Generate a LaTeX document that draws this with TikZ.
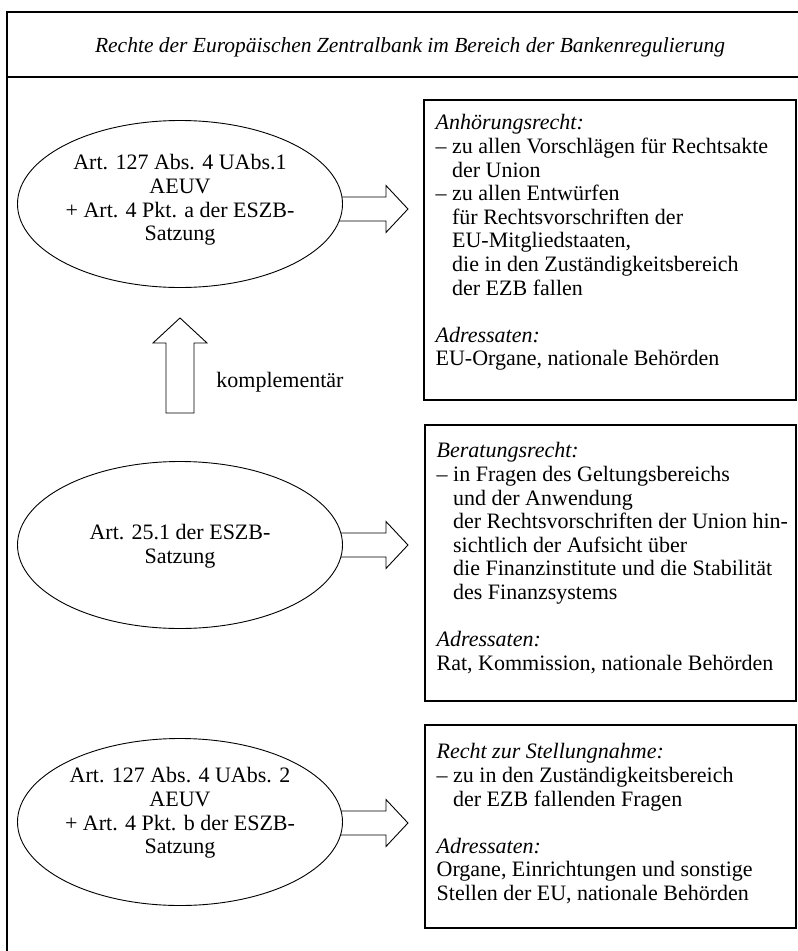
\documentclass[tikz,border=0pt]{standalone}
\usepackage{fontspec}
\setmainfont{Liberation Serif}
\usetikzlibrary{shapes.geometric,backgrounds}
\newcommand\ind{\hphantom{– }}
\begin{document}
\begin{tikzpicture}[x=1pt,y=-1pt,
  every node/.style={font=\fontsize{22}{23.6}\selectfont},
  frame/.style={line width=1.3pt},
  ellnode/.style={ellipse,draw,line width=0.9pt,fill=white,minimum width=325pt,minimum height=167pt,inner sep=0pt},
  elltext/.style={align=center,inner sep=0pt},
  boxnode/.style={rectangle,draw,line width=1.1pt,inner sep=0pt},
  boxtext/.style={align=left,anchor=north west,inner sep=0pt},
  blockarrow/.style={draw,line width=0.9pt,line join=miter}]
\useasboundingbox (0,0) rectangle (798,951);
% frame
\draw[frame] (798,12) -- (7,12) -- (7,951);
\draw[frame] (7,77) -- (798,77);
\node[inner sep=0pt,font=\fontsize{21.5}{23.6}\selectfont\itshape] (title) at (410,47) {Rechte der Europäischen Zentralbank im Bereich der Bankenregulierung};
% ellipses
\node[ellnode] (e1) at (180,204) {};
\node[ellnode] (e2) at (180,545) {};
\node[ellnode] (e3) at (180,822) {};
\node[elltext] (l1) at ([yshift=4pt]e1.center) {Art. 127 Abs. 4 UAbs.1\\AEUV\\+ Art. 4 Pkt. a der ESZB-\\Satzung};
\node[elltext] (l2) at ([yshift=-1pt]e2.center) {Art. 25.1 der ESZB-\\Satzung};
\node[elltext] (l3) at ([yshift=9pt]e3.center) {Art. 127 Abs. 4 UAbs. 2\\AEUV\\+ Art. 4 Pkt. b der ESZB-\\Satzung};
% boxes
\node[boxnode,minimum width=372pt,minimum height=300pt] (b1) at (610,250) {};
\node[boxnode,minimum width=371pt,minimum height=276pt] (b2) at (610.5,563) {};
\node[boxnode,minimum width=371pt,minimum height=203pt] (b3) at (610.5,826.5) {};
\node[boxtext] (t1) at ([xshift=12pt,yshift=-15pt]b1.north west) {\textit{Anhörungsrecht:}\\
– zu allen Vorschlägen für Rechtsakte\\
\ind der Union\\
– zu allen Entwürfen\\
\ind für Rechtsvorschriften der\\
\ind EU-Mitgliedstaaten,\\
\ind die in den Zuständigkeitsbereich\\
\ind der EZB fallen\\[23.6pt]
\textit{Adressaten:}\\
EU-Organe, nationale Behörden};
\node[boxtext] (t2) at ([xshift=12pt,yshift=-18pt]b2.north west) {\textit{Beratungsrecht:}\\
– in Fragen des Geltungsbereichs\\
\ind und der Anwendung\\
\ind der Rechtsvorschriften der Union hin-\\
\ind sichtlich der Aufsicht über\\
\ind die Finanzinstitute und die Stabilität\\
\ind des Finanzsystems\\[23.6pt]
\textit{Adressaten:}\\
Rat, Kommission, nationale Behörden};
\node[boxtext] (t3) at ([xshift=12pt,yshift=-19pt]b3.north west) {\textit{Recht zur Stellungnahme:}\\
– zu in den Zuständigkeitsbereich\\
\ind der EZB fallenden Fragen\\[23.6pt]
\textit{Adressaten:}\\
Organe, Einrichtungen und sonstige\\
Stellen der EU, nationale Behörden};
% label
\node[inner sep=0pt] (komp) at (280,382) {komplementär};
% arrows (behind ellipses)
\begin{pgfonlayer}{background}
\coordinate (a1) at ([xshift=-8pt,yshift=-5pt]e1.east);
\coordinate (a2) at ([xshift=-8pt]e2.east);
\coordinate (a3) at ([xshift=-8pt,yshift=-1pt]e3.east);
\foreach \a in {a1,a2,a3}{
  \draw[blockarrow] (\a) ++(0,-12) -- ++(51,0) -- ++(0,-11.5) -- ++(22,23.5) -- ++(-22,23.5) -- ++(0,-11.5) -- ++(-51,0);
}
\coordinate (up) at ([yshift=-30pt]e1.south);
\draw[blockarrow] (up) -- ++(27,25) -- ++(-13,0) -- ++(0,70) -- ++(-28,0) -- ++(0,-70) -- ++(-13,0) -- cycle;
\end{pgfonlayer}
\end{tikzpicture}
\end{document}
